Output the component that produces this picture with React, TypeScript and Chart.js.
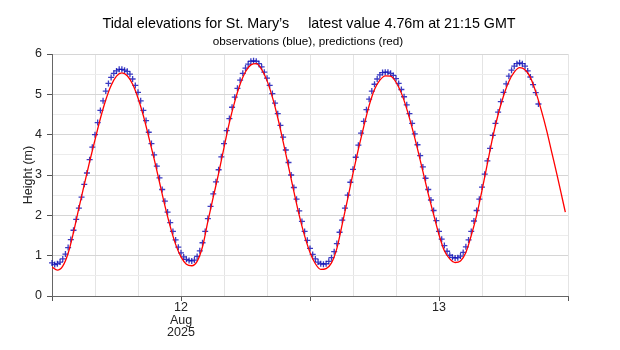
import React, { useEffect, useRef } from "react";
import { Chart, registerables } from "chart.js";

Chart.register(...registerables);

// Hours since 00:00 GMT, 12 Aug 2025
const X_MIN_HOUR = 0;
const X_MAX_HOUR = 48;
const X_GRID_STEP = 4;
const X_TICK_LABELS: Record<number, string[] | string> = {
  12: ["12", "Aug", "2025"],
  36: "13",
};
const X_MAJOR_EVERY = 12;

const Y_MIN = 0;
const Y_MAX = 6;
const Y_GRID_STEP = 0.5;

const TITLE_PLACE = "Tidal elevations for St. Mary\u2019s";
const TITLE_LATEST = "latest value 4.76m at 21:15 GMT";
const SUBTITLE = "observations (blue), predictions (red)";
const Y_TITLE = "Height (m)";

// Predicted heights (m): [hour, metres]
const PREDICTIONS: [number, number][] = [
  [0.0, 0.72], [0.5, 0.64], [1.0, 0.74], [1.5, 1.06], [2.0, 1.58], [2.5, 2.18],
  [3.0, 2.76], [3.5, 3.33], [4.0, 3.87], [4.5, 4.40], [5.0, 4.86], [5.5, 5.22],
  [6.0, 5.45], [6.5, 5.53], [7.0, 5.46], [7.5, 5.25], [8.0, 4.91], [8.5, 4.47],
  [9.0, 3.94], [9.5, 3.40], [10.0, 2.82], [10.5, 2.24], [11.0, 1.72], [11.5, 1.28],
  [12.0, 0.97], [12.5, 0.79], [13.0, 0.75], [13.5, 0.86], [14.0, 1.22], [14.5, 1.85],
  [15.0, 2.45], [15.5, 3.04], [16.0, 3.68], [16.5, 4.30], [17.0, 4.82], [17.5, 5.25],
  [18.0, 5.56], [18.5, 5.73], [19.0, 5.76], [19.5, 5.62], [20.0, 5.34], [20.5, 4.93],
  [21.0, 4.42], [21.5, 3.83], [22.0, 3.21], [22.5, 2.59], [23.0, 2.00], [23.5, 1.49],
  [24.0, 1.08], [24.5, 0.80], [25.0, 0.66], [25.5, 0.68], [26.0, 0.82], [26.5, 1.18],
  [27.0, 1.78], [27.5, 2.40], [28.0, 3.04], [28.5, 3.64], [29.0, 4.20], [29.5, 4.72],
  [30.0, 5.12], [30.5, 5.35], [31.0, 5.46], [31.5, 5.45], [32.0, 5.30], [32.5, 5.03],
  [33.0, 4.64], [33.5, 4.17], [34.0, 3.65], [34.5, 3.09], [35.0, 2.53], [35.5, 2.02],
  [36.0, 1.52], [36.5, 1.12], [37.0, 0.92], [37.5, 0.83], [38.0, 0.87], [38.5, 1.08],
  [39.0, 1.50], [39.5, 2.00], [40.0, 2.62], [40.5, 3.28], [41.0, 3.94], [41.5, 4.50],
  [42.0, 4.96], [42.5, 5.32], [43.0, 5.55], [43.5, 5.66], [44.0, 5.61], [44.5, 5.42],
  [45.0, 5.06], [45.5, 4.62], [46.0, 4.12], [46.5, 3.55], [47.0, 2.98], [47.5, 2.38],
  [47.75, 2.08],
];

// Observed heights (m), every 15 minutes from 00:00 GMT 12 Aug
const OBS_START_HOUR = 0;
const OBS_STEP_HOURS = 0.25;
const OBSERVATIONS: number[] = [
  0.82, 0.78, 0.80, 0.84, 0.92, 1.04, 1.20, 1.40, 1.63, 1.90, 2.18, 2.45,
  2.77, 3.05, 3.38, 3.69, 4.00, 4.30, 4.60, 4.84, 5.08, 5.27, 5.42, 5.52,
  5.58, 5.62, 5.62, 5.60, 5.57, 5.50, 5.38, 5.22, 5.05, 4.84, 4.60, 4.35,
  4.06, 3.78, 3.50, 3.22, 2.93, 2.64, 2.35, 2.08, 1.82, 1.60, 1.39, 1.21,
  1.07, 0.97, 0.91, 0.88, 0.87, 0.89, 0.98, 1.12, 1.32, 1.60, 1.92, 2.22,
  2.53, 2.83, 3.13, 3.45, 3.78, 4.10, 4.40, 4.68, 4.93, 5.15, 5.35, 5.52,
  5.65, 5.75, 5.82, 5.83, 5.82, 5.76, 5.68, 5.55, 5.40, 5.22, 5.02, 4.78,
  4.52, 4.23, 3.94, 3.62, 3.31, 3.00, 2.69, 2.40, 2.11, 1.85, 1.60, 1.38,
  1.18, 1.03, 0.92, 0.84, 0.80, 0.79, 0.80, 0.86, 0.95, 1.10, 1.30, 1.58,
  1.88, 2.18, 2.50, 2.82, 3.14, 3.44, 3.74, 4.04, 4.33, 4.62, 4.88, 5.08,
  5.25, 5.38, 5.48, 5.54, 5.55, 5.55, 5.52, 5.47, 5.39, 5.27, 5.12, 4.94,
  4.74, 4.52, 4.28, 4.02, 3.75, 3.48, 3.20, 2.92, 2.64, 2.38, 2.12, 1.87,
  1.60, 1.41, 1.25, 1.11, 1.01, 0.96, 0.94, 0.95, 0.99, 1.08, 1.22, 1.39,
  1.60, 1.86, 2.12, 2.40, 2.70, 3.02, 3.35, 3.66, 3.98, 4.28, 4.56, 4.82,
  5.05, 5.26, 5.45, 5.60, 5.70, 5.76, 5.78, 5.76, 5.70, 5.58, 5.43, 5.24,
  5.04, 4.76,
];

const FONT = '"Liberation Sans", Arial, sans-serif';

const titlePlugin = {
  id: "tideTitles",
  afterDraw(chart: any) {
    const ctx = chart.ctx;
    ctx.save();
    ctx.fillStyle = "#000";
    ctx.textBaseline = "alphabetic";
    ctx.font = `14.3px ${FONT}`;
    ctx.textAlign = "left";
    const gap = 19;
    const w1 = ctx.measureText(TITLE_PLACE).width;
    const w2 = ctx.measureText(TITLE_LATEST).width;
    const start = 309 - (w1 + gap + w2) / 2;
    ctx.fillText(TITLE_PLACE, start, 28);
    ctx.fillText(TITLE_LATEST, start + w1 + gap, 28);
    ctx.font = `11.7px ${FONT}`;
    ctx.textAlign = "center";
    ctx.fillText(SUBTITLE, 308, 45);
    ctx.font = `12.5px ${FONT}`;
    ctx.fillStyle = "#222";
    ctx.translate(29, 175);
    ctx.rotate(-Math.PI / 2);
    ctx.textBaseline = "middle";
    ctx.fillText(Y_TITLE, 0, 0);
    ctx.restore();
  },
};

export default function App() {
  const ref = useRef<HTMLCanvasElement | null>(null);

  useEffect(() => {
    if (!ref.current) return;
    const predData = PREDICTIONS.map(([x, y]) => ({ x, y }));
    const obsData = OBSERVATIONS.map((y, i) => ({ x: OBS_START_HOUR + i * OBS_STEP_HOURS, y }));

    const chart = new Chart(ref.current, {
      type: "line",
      data: {
        datasets: [
          {
            label: "predictions",
            data: predData,
            borderColor: "#ff0000",
            borderWidth: 1.3,
            pointRadius: 0,
            cubicInterpolationMode: "monotone",
            fill: false,
          },
          {
            label: "observations",
            data: obsData,
            showLine: false,
            pointStyle: "cross",
            pointRadius: 3,
            pointBorderWidth: 1.3,
            pointBorderColor: "rgba(10,10,180,0.8)",
            pointBackgroundColor: "rgba(10,10,180,0.8)",
            borderColor: "rgba(10,10,180,0.8)",
            clip: false as any,
          },
        ],
      },
      options: {
        animation: false,
        responsive: false,
        maintainAspectRatio: false,
        layout: { padding: { top: 54, right: 52, left: 0, bottom: 0 } },
        plugins: {
          legend: { display: false },
          tooltip: { enabled: false },
          title: { display: false },
        },
        scales: {
          x: {
            type: "linear",
            min: X_MIN_HOUR,
            max: X_MAX_HOUR,
            afterFit: (s: any) => {
              s.height = 54;
            },
            afterBuildTicks: (s: any) => {
              const t = [];
              for (let v = X_MIN_HOUR; v <= X_MAX_HOUR; v += X_GRID_STEP) t.push({ value: v });
              s.ticks = t;
            },
            ticks: {
              autoSkip: false,
              maxRotation: 0,
              minRotation: 0,
              padding: 0,
              color: "#222",
              font: { family: FONT, size: 12.5, lineHeight: 1.02 },
              callback: (v: any) => {
                const lab = X_TICK_LABELS[Number(v)];
                return lab === undefined ? "" : lab;
              },
            },
            grid: {
              color: "#e4e4e4",
              lineWidth: 1,
              tickLength: 5,
              tickColor: (c: any) =>
                c.tick && c.tick.value % X_MAJOR_EVERY === 0 ? "#555" : "rgba(0,0,0,0)",
            },
            border: { color: "#666", width: 1 },
          },
          y: {
            type: "linear",
            min: Y_MIN,
            max: Y_MAX,
            afterFit: (s: any) => {
              s.width = 52;
            },
            ticks: {
              stepSize: Y_GRID_STEP,
              padding: 5,
              color: "#222",
              font: { family: FONT, size: 12.5 },
              callback: (v: any) => (Number.isInteger(Number(v)) ? String(v) : ""),
            },
            grid: {
              color: (c: any) =>
                c.tick && Number.isInteger(c.tick.value) ? "#d6d6d6" : "#ececec",
              tickLength: 5,
              tickColor: (c: any) =>
                c.tick && Number.isInteger(c.tick.value) ? "#555" : "rgba(0,0,0,0)",
            },
            border: { color: "#666", width: 1 },
          },
        },
      },
      plugins: [titlePlugin],
    });
    return () => chart.destroy();
  }, []);

  return (
    <div style={{ position: "absolute", left: 0, top: 0, width: 620, height: 350, background: "#fff" }}>
      <canvas ref={ref} width={620} height={350} style={{ width: 620, height: 350 }} />
    </div>
  );
}
